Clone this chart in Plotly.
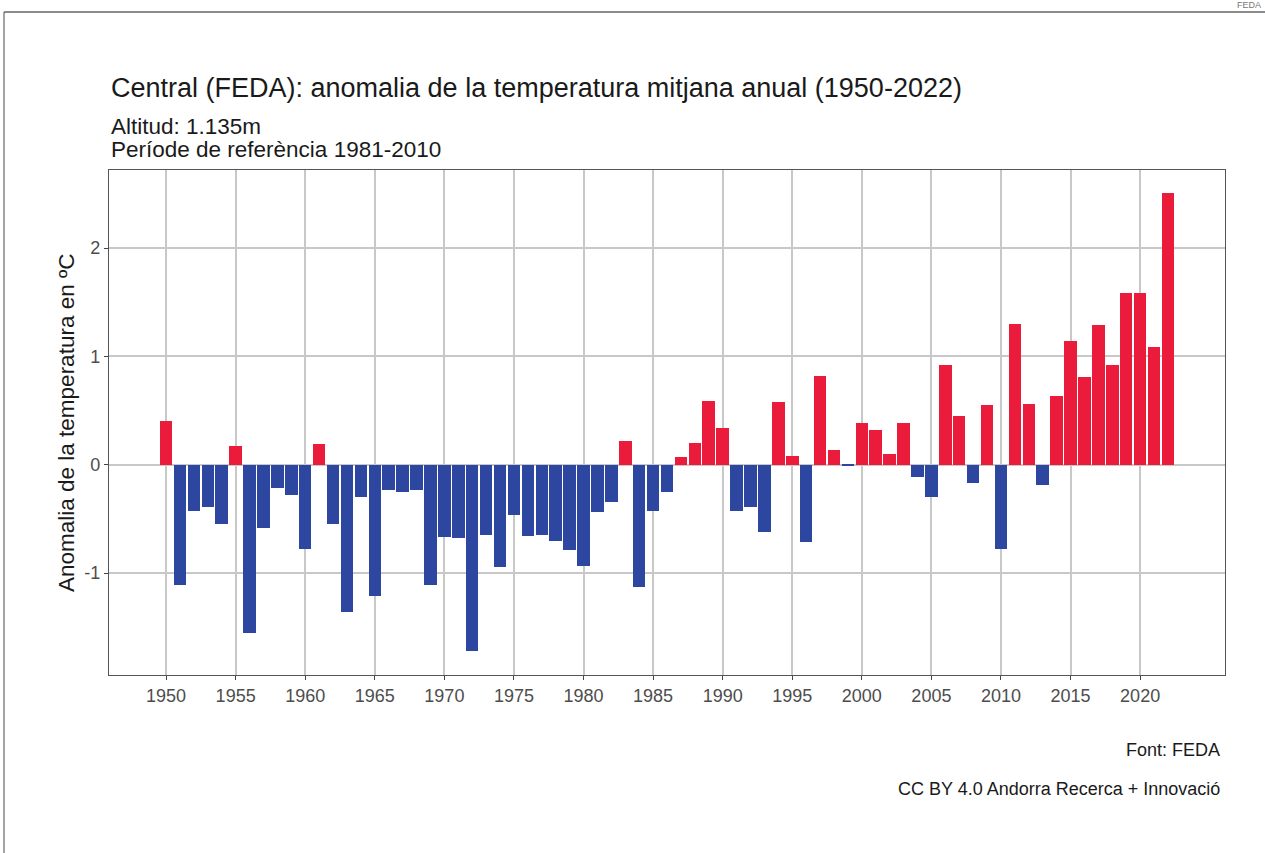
import plotly.graph_objects as go

years = list(range(1950, 2023))
anomalies = [
    0.40, -1.11, -0.43, -0.39, -0.55, 0.17, -1.55, -0.58, -0.215, -0.28,
    -0.78, 0.19, -0.55, -1.36, -0.30, -1.21, -0.23, -0.255, -0.23, -1.11,
    -0.67, -0.68, -1.72, -0.65, -0.94, -0.46, -0.66, -0.65, -0.70, -0.79,
    -0.93, -0.44, -0.34, 0.215, -1.13, -0.43, -0.25, 0.07, 0.20, 0.59,
    0.34, -0.43, -0.39, -0.62, 0.575, 0.077, -0.71, 0.82, 0.14, -0.015,
    0.385, 0.32, 0.10, 0.385, -0.11, -0.30, 0.92, 0.45, -0.17, 0.55,
    -0.78, 1.30, 0.56, -0.19, 0.63, 1.14, 0.81, 1.29, 0.92, 1.585,
    1.585, 1.09, 2.51,
]
x_ticks = list(range(1950, 2021, 5))
y_ticks = [-1, 0, 1, 2]

title_text = "Central (FEDA): anomalia de la temperatura mitjana anual (1950-2022)"
subtitle_lines = ["Altitud: 1.135m", "Període de referència 1981-2010"]
y_title = "Anomalia de la temperatura en ºC"
caption_lines = ["Font: FEDA", "CC BY 4.0 Andorra Recerca + Innovació"]

RED = "#EA1B3B"
BLUE = "#2D47A0"
colors = [RED if v >= 0 else BLUE for v in anomalies]

W, H = 1265, 853
L, R, T, B = 109, 1225, 170, 675
FONT = "Liberation Sans, Arial, sans-serif"


def px(xp):
    return (xp - L) / (R - L)


def py(yp):
    return (B - yp) / (B - T)


fig = go.Figure()
fig.add_trace(go.Bar(
    x=years, y=anomalies, width=0.9,
    marker=dict(color=colors, line=dict(width=0)),
    showlegend=False, hoverinfo="x+y",
))

axis_common = dict(
    showgrid=True, gridcolor="#c8c8c8", gridwidth=1.6,
    zeroline=False, showline=True, mirror=True,
    linecolor="#555555", linewidth=1.2,
    ticks="outside", ticklen=4, tickcolor="#444444", tickwidth=1.2,
    tickfont=dict(family=FONT, size=18, color="#4d4d4d"),
)

fig.update_xaxes(range=[1945.9, 2026.1], tickvals=x_ticks, **axis_common)
fig.update_yaxes(range=[-1.94, 2.72], tickvals=y_ticks,
                 ticktext=[str(v) for v in y_ticks], **axis_common)

annotations = [
    dict(text=title_text, x=px(109), y=py(88), xanchor="left", yanchor="middle",
         font=dict(family=FONT, size=27, color="#1a1a1a")),
    dict(text=subtitle_lines[0], x=px(109), y=py(127), xanchor="left", yanchor="middle",
         font=dict(family=FONT, size=22.5, color="#1a1a1a")),
    dict(text=subtitle_lines[1], x=px(109), y=py(150), xanchor="left", yanchor="middle",
         font=dict(family=FONT, size=22.5, color="#1a1a1a")),
    dict(text=y_title, x=px(66), y=py(423), xanchor="center", yanchor="middle",
         textangle=-90, font=dict(family=FONT, size=22.5, color="#1a1a1a")),
    dict(text=caption_lines[0], x=px(1222), y=py(750), xanchor="right", yanchor="middle",
         font=dict(family=FONT, size=18, color="#1a1a1a")),
    dict(text=caption_lines[1], x=px(1222), y=py(789), xanchor="right", yanchor="middle",
         font=dict(family=FONT, size=18, color="#1a1a1a")),
    dict(text="FEDA", x=px(1263), y=py(5), xanchor="right", yanchor="middle",
         font=dict(family=FONT, size=9, color="#777777")),
]
for a in annotations:
    a.update(xref="paper", yref="paper", showarrow=False)

shapes = [
    dict(type="line", xref="paper", yref="paper",
         x0=px(4), x1=px(W + 5), y0=py(12), y1=py(12),
         line=dict(color="#666666", width=1.5)),
    dict(type="line", xref="paper", yref="paper",
         x0=px(4), x1=px(4), y0=py(12), y1=py(H + 5),
         line=dict(color="#666666", width=1.2)),
]

fig.update_layout(
    width=W, height=H,
    margin=dict(l=L, r=W - R, t=T, b=H - B, pad=0),
    paper_bgcolor="white", plot_bgcolor="white",
    annotations=annotations, shapes=shapes,
    bargap=0, font=dict(family=FONT),
)

fig.write_html(
    "out.html",
    config={"displayModeBar": False},
    post_script="document.body.style.margin='0';document.body.style.overflow='hidden';",
)
